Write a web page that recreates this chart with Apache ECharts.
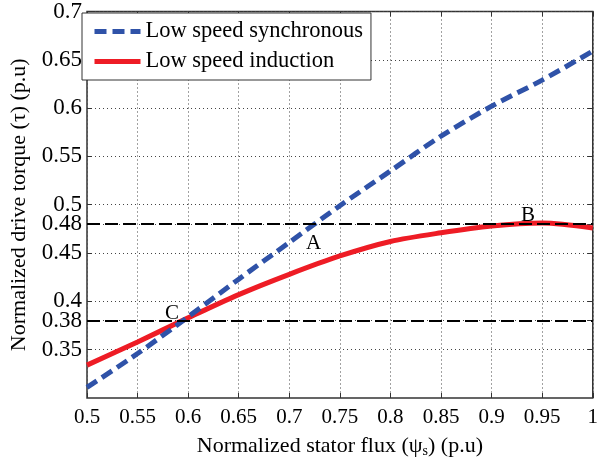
<!DOCTYPE html>
<html lang="en">
<head>
    <meta charset="UTF-8" />
    <title>Drive torque vs stator flux</title>
    <script src="https://cdn.jsdelivr.net/npm/echarts@6/dist/echarts.min.js"></script>
    <style>
        html, body { margin: 0; padding: 0; background: #fff; }
        #main { width: 601px; height: 463px; }
    </style>
</head>
<body>
    <div id="main"></div>
    <script>
        // flux values (p.u)
        const flux = [0.5, 0.55, 0.6, 0.65, 0.7, 0.75, 0.8, 0.85, 0.9, 0.95, 1.0];
        // low speed synchronous torque
        const syncTorque = [0.311, 0.346, 0.384, 0.423, 0.461, 0.499, 0.535, 0.571, 0.602, 0.629, 0.659];
        // low speed induction torque
        const indTorque = [0.334, 0.358, 0.383, 0.407, 0.428, 0.447, 0.462, 0.471, 0.478, 0.481, 0.476];
        // y tick labels
        const yTicks = [0.35, 0.38, 0.4, 0.45, 0.48, 0.5, 0.55, 0.6, 0.65, 0.7];
        // reference levels
        const refLevels = [0.38, 0.48];
        // point labels
        const pointNames = ['A', 'B', 'C'];
        const pointPos = [[0.724, 0.460], [0.936, 0.489], [0.584, 0.387]];

        const font = "'Liberation Serif', 'DejaVu Serif', serif";
        const fs = 21;
        const chart = echarts.init(document.getElementById('main'));

        const gridLine = { show: true, lineStyle: { color: '#444', type: [1, 3], width: 1 } };

        const option = {
            animation: false,
            textStyle: { fontFamily: font },
            grid: {
                left: 77, right: 4, top: 10, bottom: 61,
                show: true, borderColor: '#333', borderWidth: 1.5
            },
            legend: {
                orient: 'vertical',
                left: 82, top: 13,
                itemWidth: 46, itemHeight: 14, itemGap: 7,
                padding: [7, 8, 7, 10],
                borderColor: '#333', borderWidth: 1,
                backgroundColor: '#fff',
                itemStyle: { opacity: 0 },
                lineStyle: { width: 5 },
                textStyle: { fontFamily: font, fontSize: 22.5, color: '#000' },
                data: ['Low speed synchronous', 'Low speed induction']
            },
            xAxis: [{
                type: 'value', min: 0.5, max: 1, interval: 0.05,
                axisLine: { show: false },
                axisTick: { show: true, inside: true, length: 5, lineStyle: { color: '#333' } },
                axisLabel: { fontFamily: font, fontSize: fs, color: '#000', margin: 9 },
                splitLine: gridLine,
                name: 'Normalized stator flux (ψ{sub|s}) (p.u)',
                nameLocation: 'middle', nameGap: 36,
                nameTextStyle: {
                    fontFamily: font, fontSize: 22, color: '#000',
                    rich: { sub: { fontFamily: font, fontSize: 14, color: '#000', verticalAlign: 'bottom', padding: [10, 0, 0, 0] } }
                }
            }, {
                type: 'value', min: 0.5, max: 1, interval: 0.05, position: 'top',
                axisLine: { show: false },
                axisTick: { show: true, inside: true, length: 5, lineStyle: { color: '#333' } },
                axisLabel: { show: false }, splitLine: { show: false }
            }],
            yAxis: [{
                type: 'value', min: 0.3, max: 0.7,
                axisLine: { show: false },
                axisTick: { show: true, inside: true, length: 5, customValues: yTicks, lineStyle: { color: '#333' } },
                axisLabel: {
                    fontFamily: font, fontSize: 23, color: '#000', margin: 5,
                    customValues: yTicks
                },
                splitLine: gridLine,
                name: 'Normalized drive torque (τ) (p.u)',
                nameLocation: 'middle', nameGap: 57,
                nameTextStyle: { fontFamily: font, fontSize: 22, color: '#000' }
            }, {
                type: 'value', min: 0.3, max: 0.7, position: 'right',
                axisLine: { show: false },
                axisTick: { show: true, inside: true, length: 5, customValues: yTicks, lineStyle: { color: '#333' } },
                axisLabel: { show: false }, splitLine: { show: false }
            }],
            series: [{
                name: 'Low speed synchronous',
                type: 'line', symbol: 'none', smooth: 0.3,
                data: flux.map((x, i) => [x, syncTorque[i]]),
                lineStyle: { color: '#2f52a8', width: 5, type: [12, 6] },
                itemStyle: { color: '#2f52a8' },
                z: 4
            }, {
                name: 'Low speed induction',
                type: 'line', symbol: 'none', smooth: 0.3,
                data: flux.map((x, i) => [x, indTorque[i]]),
                lineStyle: { color: '#ee1c25', width: 5 },
                itemStyle: { color: '#ee1c25' },
                z: 3,
                markLine: {
                    silent: true, symbol: 'none', animation: false,
                    label: { show: false },
                    lineStyle: { color: '#000', width: 2, type: [13, 5] },
                    data: refLevels.map(v => ({ yAxis: v }))
                },
                markPoint: {
                    symbol: 'circle', symbolSize: 0,
                    label: { show: true, fontFamily: font, fontSize: fs, color: '#000', formatter: p => p.name },
                    data: pointNames.map((n, i) => ({ name: n, coord: pointPos[i] }))
                }
            }]
        };

        chart.setOption(option);
    </script>
</body>
</html>
